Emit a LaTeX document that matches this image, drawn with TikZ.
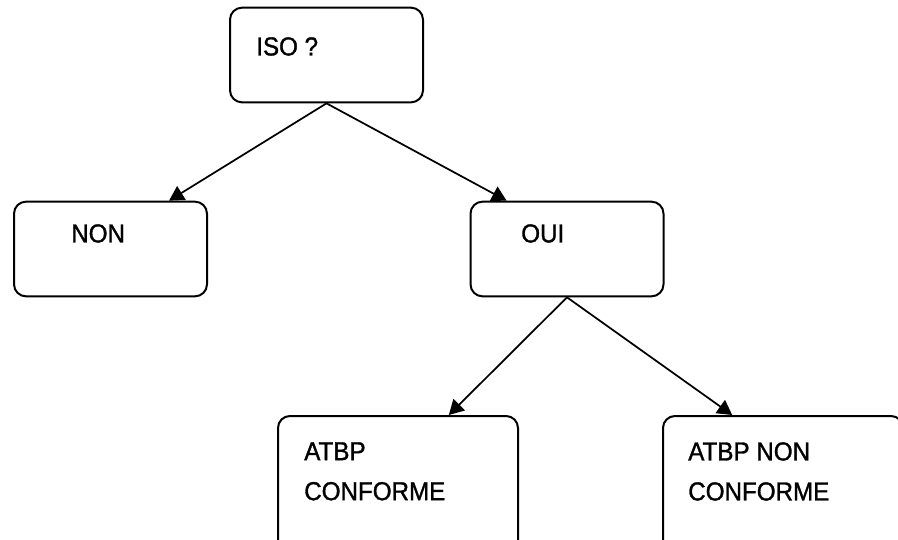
\documentclass[tikz,border=0pt]{standalone}
\usepackage{fontspec}
\setmainfont{Liberation Sans}[FakeStretch=0.93,FakeBold=1.2]
\usetikzlibrary{arrows.meta,calc}

\tikzset{
  box/.style={draw, line width=1.5pt, rounded corners=9pt, minimum width=144.75pt, minimum height=71pt, inner sep=0pt},
  bigbox/.style={box, minimum width=180pt, minimum height=105pt},
  txt/.style={anchor=north west, inner sep=0pt, align=left, font=\fontsize{19.5}{30}\selectfont},
  link/.style={line width=1.3pt, -{Triangle[length=11pt,width=12pt]}}
}

\begin{document}
\begin{tikzpicture}[x=0.75pt,y=-0.75pt] % one unit is one pixel
	\useasboundingbox (0,0) rectangle (898,539);
	\clip (0,0) rectangle (898,539);
	
	% The boxes
	\node[box] (iso) at (326.5,55) {};
	\node[box] (non) at (110.5,249) {};
	\node[box] (oui) at (567,249) {};
	\node[bigbox] (conf) at (398,486) {};
	\node[bigbox] (nonconf) at (783,486) {};
	
	% Their texts, set towards the top left
	\node[txt] (isotxt) at (256,37) {ISO ?};
	\node[txt] (nontxt) at (71,224) {NON};
	\node[txt] (ouitxt) at (521,224) {OUI};
	\node[txt] (conftxt) at (304,442) {ATBP\\CONFORME};
	\node[txt] (nonconftxt) at (688,442) {ATBP NON\\CONFORME};
	
	% Arrows
	\draw[link] (iso.south) -- ($(non.north west)!0.8!(non.north east)$);
	\draw[link] (iso.south) -- ($(oui.north west)!0.19!(oui.north east)$);
	\draw[link] (oui.south) -- ($(conf.north west)!0.71!(conf.north east)$);
	\draw[link] (oui.south) -- ($(nonconf.north west)!0.29!(nonconf.north east)$);
\end{tikzpicture}
\end{document}
